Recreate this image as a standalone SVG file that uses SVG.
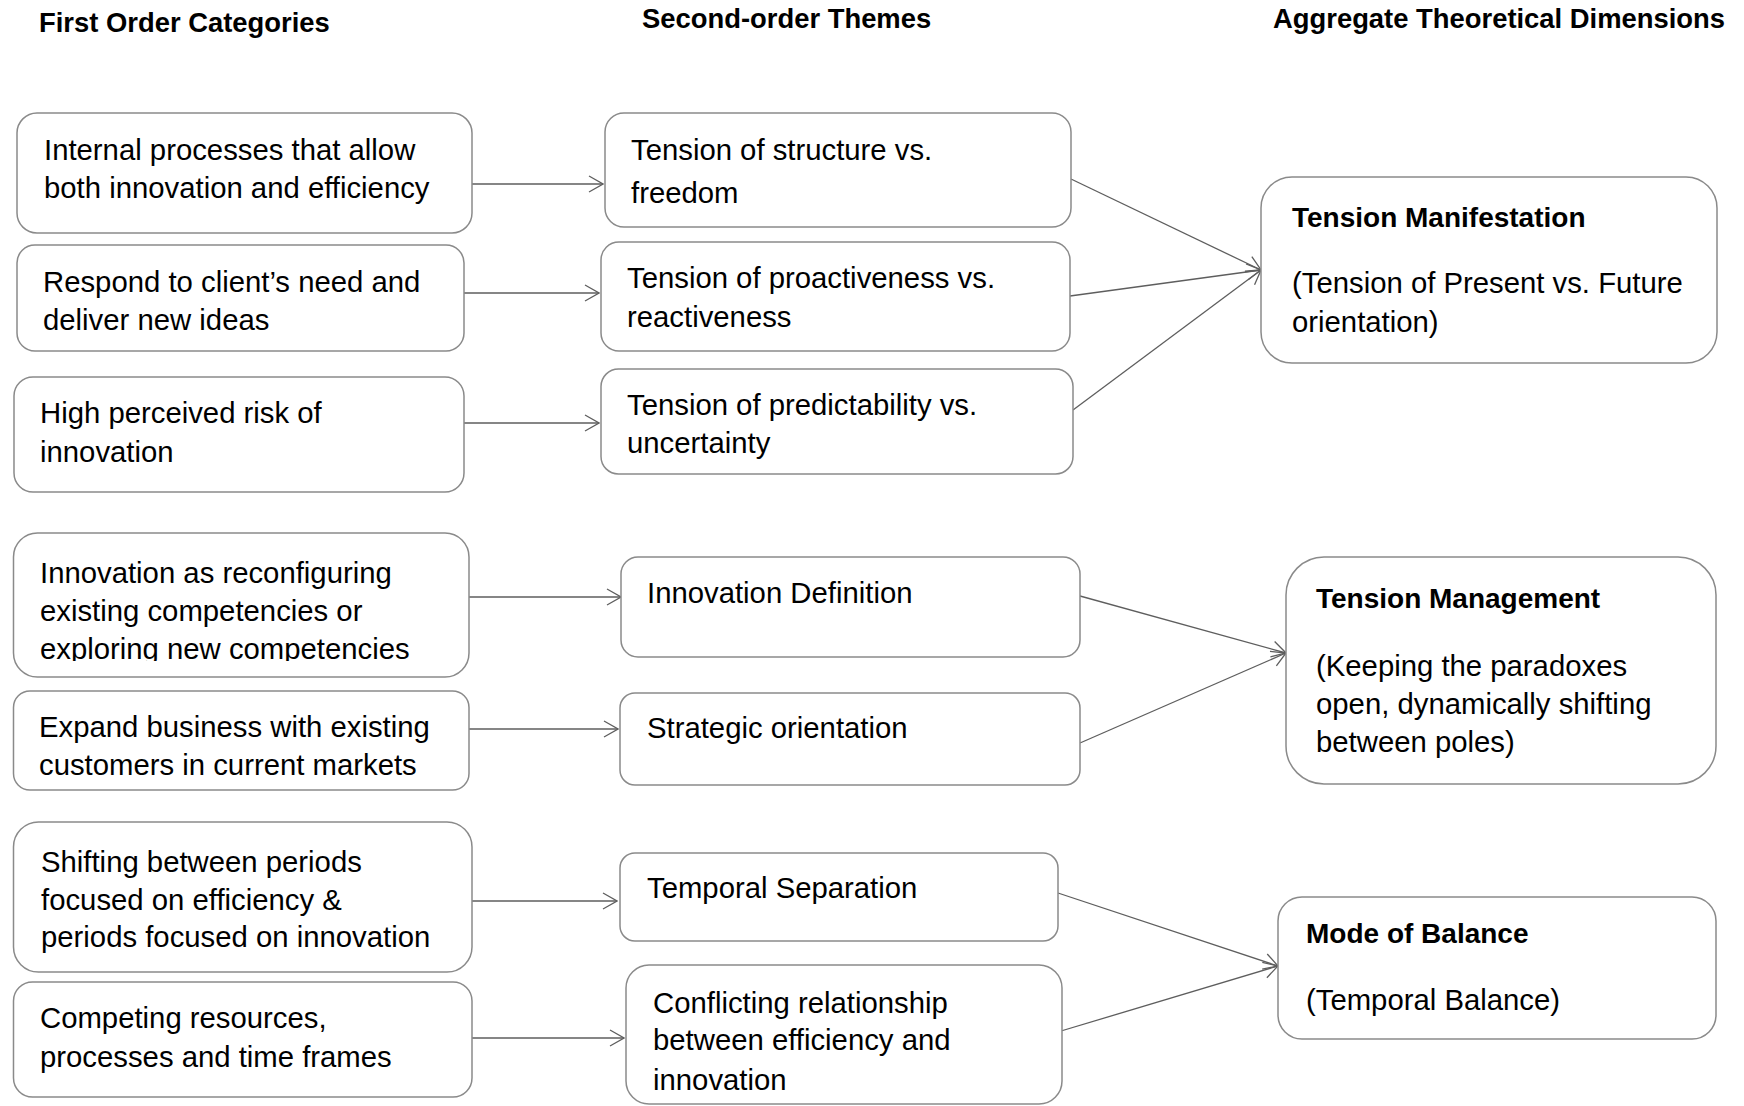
<svg xmlns="http://www.w3.org/2000/svg" width="1744" height="1106" viewBox="0 0 1744 1106">
  <style>
    .box { fill: #ffffff; stroke: #8a8a8a; stroke-width: 1.5; }
    .txt { font-family: "Liberation Sans", Arial, sans-serif; font-size: 29.3px; fill: #000000; }
    .ttl { font-family: "Liberation Sans", Arial, sans-serif; font-size: 28px; font-weight: bold; fill: #000000; }
    .hdr { font-family: "Liberation Sans", Arial, sans-serif; font-size: 27.4px; font-weight: bold; fill: #000000; }
    .conn line { stroke: #5e5e5e; stroke-width: 1.3; fill: none; marker-end: url(#open); }
  </style>
  <defs>
    <marker id="open" viewBox="0 0 16 18" refX="15" refY="9" markerWidth="16" markerHeight="18" markerUnits="userSpaceOnUse" orient="auto">
      <path d="M1,1 L15,9 L1,17" fill="none" stroke="#5e5e5e" stroke-width="1.3"/>
    </marker>
    <clipPath id="clipB1">
      <rect x="0" y="530" width="480" height="131"/>
    </clipPath>
  </defs>
  <rect width="1744" height="1106" fill="#ffffff"/>

  <!-- column headings -->
  <g id="headers">
    <text class="hdr" x="39" y="32">First Order Categories</text>
    <text class="hdr" x="642" y="28">Second-order Themes</text>
    <text class="hdr" x="1273" y="28">Aggregate Theoretical Dimensions</text>
  </g>

  <!-- connectors -->
  <g id="connectors" class="conn">
    <line x1="472" y1="184" x2="603" y2="184"/>
    <line x1="464" y1="293" x2="599" y2="293"/>
    <line x1="464" y1="423" x2="599" y2="423"/>
    <line x1="469" y1="597" x2="621" y2="597"/>
    <line x1="469" y1="729" x2="618" y2="729"/>
    <line x1="472" y1="901" x2="617" y2="901"/>
    <line x1="472" y1="1038" x2="624" y2="1038"/>
    <line x1="1071" y1="179" x2="1261" y2="270"/>
    <line x1="1070" y1="296" x2="1261" y2="270"/>
    <line x1="1073" y1="410" x2="1261" y2="270"/>
    <line x1="1080" y1="596" x2="1286" y2="653"/>
    <line x1="1080" y1="743" x2="1286" y2="653"/>
    <line x1="1058" y1="893" x2="1278" y2="966"/>
    <line x1="1061" y1="1031" x2="1278" y2="966"/>
  </g>

  <!-- first order categories -->
  <g id="n-internal-processes">
    <rect class="box" x="17" y="113" width="455" height="120" rx="20"/>
    <text class="txt" x="44" y="160">Internal processes that allow</text>
    <text class="txt" x="44" y="198">both innovation and efficiency</text>
  </g>
  <g id="n-respond-client">
    <rect class="box" x="17" y="245" width="447" height="106" rx="18"/>
    <text class="txt" x="43" y="292">Respond to client’s need and</text>
    <text class="txt" x="43" y="330">deliver new ideas</text>
  </g>
  <g id="n-perceived-risk">
    <rect class="box" x="14" y="377" width="450" height="115" rx="19"/>
    <text class="txt" x="40" y="423">High perceived risk of</text>
    <text class="txt" x="40" y="462">innovation</text>
  </g>
  <g id="n-reconfiguring">
    <rect class="box" x="13.5" y="533" width="455.5" height="144" rx="24"/>
    <g clip-path="url(#clipB1)">
      <text class="txt" x="40" y="583">Innovation as reconfiguring</text>
      <text class="txt" x="40" y="621">existing competencies or</text>
      <text class="txt" x="40" y="659">exploring new competencies</text>
    </g>
  </g>
  <g id="n-expand-business">
    <rect class="box" x="13.5" y="691" width="455.5" height="99" rx="16.5"/>
    <text class="txt" x="39" y="737">Expand business with existing</text>
    <text class="txt" x="39" y="775">customers in current markets</text>
  </g>
  <g id="n-shifting-periods">
    <rect class="box" x="13.5" y="822" width="458.5" height="150" rx="25"/>
    <text class="txt" x="41" y="872">Shifting between periods</text>
    <text class="txt" x="41" y="910">focused on efficiency &amp;</text>
    <text class="txt" x="41" y="947">periods focused on innovation</text>
  </g>
  <g id="n-competing-resources">
    <rect class="box" x="13.5" y="982" width="458.5" height="115" rx="19"/>
    <text class="txt" x="40" y="1028">Competing resources,</text>
    <text class="txt" x="40" y="1067">processes and time frames</text>
  </g>

  <!-- second-order themes -->
  <g id="n-structure-freedom">
    <rect class="box" x="605" y="113" width="466" height="114" rx="19"/>
    <text class="txt" x="631" y="160">Tension of structure vs.</text>
    <text class="txt" x="631" y="203">freedom</text>
  </g>
  <g id="n-proactiveness">
    <rect class="box" x="601" y="242" width="469" height="109" rx="18"/>
    <text class="txt" x="627" y="288">Tension of proactiveness vs.</text>
    <text class="txt" x="627" y="327">reactiveness</text>
  </g>
  <g id="n-predictability">
    <rect class="box" x="601" y="369" width="472" height="105" rx="17.5"/>
    <text class="txt" x="627" y="415">Tension of predictability vs.</text>
    <text class="txt" x="627" y="453">uncertainty</text>
  </g>
  <g id="n-innovation-definition">
    <rect class="box" x="621" y="557" width="459" height="100" rx="17"/>
    <text class="txt" x="647" y="603">Innovation Definition</text>
  </g>
  <g id="n-strategic-orientation">
    <rect class="box" x="620" y="693" width="460" height="92" rx="15"/>
    <text class="txt" x="647" y="738">Strategic orientation</text>
  </g>
  <g id="n-temporal-separation">
    <rect class="box" x="620" y="853" width="438" height="88" rx="15"/>
    <text class="txt" x="647" y="898">Temporal Separation</text>
  </g>
  <g id="n-conflicting-relationship">
    <rect class="box" x="626" y="965" width="436" height="139" rx="23"/>
    <text class="txt" x="653" y="1013">Conflicting relationship</text>
    <text class="txt" x="653" y="1050">between efficiency and</text>
    <text class="txt" x="653" y="1090">innovation</text>
  </g>

  <!-- aggregate theoretical dimensions -->
  <g id="n-tension-manifestation">
    <rect class="box" x="1261" y="177" width="456" height="186" rx="31"/>
    <text class="ttl" x="1292" y="227">Tension Manifestation</text>
    <text class="txt" x="1292" y="293">(Tension of Present vs. Future</text>
    <text class="txt" x="1292" y="332">orientation)</text>
  </g>
  <g id="n-tension-management">
    <rect class="box" x="1286" y="557" width="430" height="227" rx="38"/>
    <text class="ttl" x="1316" y="608">Tension Management</text>
    <text class="txt" x="1316" y="676">(Keeping the paradoxes</text>
    <text class="txt" x="1316" y="714">open, dynamically shifting</text>
    <text class="txt" x="1316" y="752">between poles)</text>
  </g>
  <g id="n-mode-of-balance">
    <rect class="box" x="1278" y="897" width="438" height="142" rx="24"/>
    <text class="ttl" x="1306" y="943">Mode of Balance</text>
    <text class="txt" x="1306" y="1010">(Temporal Balance)</text>
  </g>
</svg>
